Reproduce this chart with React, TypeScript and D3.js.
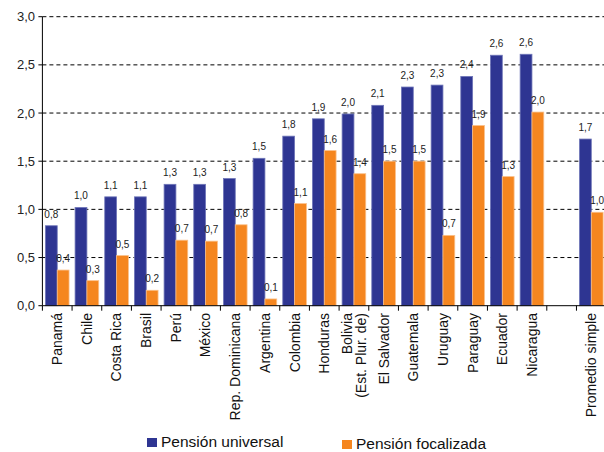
import React from 'react';
import * as d3 from 'd3';

const categories = [
  'Panamá', 'Chile', 'Costa Rica', 'Brasil', 'Perú', 'México', 'Rep. Dominicana',
  'Argentina', 'Colombia', 'Honduras', 'Bolivia\n(Est. Plur. de)', 'El Salvador',
  'Guatemala', 'Uruguay', 'Paraguay', 'Ecuador', 'Nicaragua', '', 'Promedio simple',
];
const universal = [0.83, 1.02, 1.13, 1.13, 1.26, 1.26, 1.32, 1.53, 1.76, 1.94, 1.99, 2.08, 2.27, 2.29, 2.38, 2.6, 2.61, null, 1.73];
const focalizada = [0.37, 0.26, 0.52, 0.16, 0.68, 0.67, 0.84, 0.07, 1.06, 1.61, 1.37, 1.5, 1.5, 0.73, 1.87, 1.34, 2.01, null, 0.97];
const seriesNames = ['Pensión universal', 'Pensión focalizada'];
const yTicks = [0, 0.5, 1, 1.5, 2, 2.5, 3];

const colors = ['#2E3592', '#F5861F'];
const edges = ['#6F76B8', '#FAC08A'];
const font = 'Liberation Sans, Arial, sans-serif';

const fmt = (v: number) => v.toFixed(1).replace('.', ',');

export default function App() {
  const width = 604;
  const height = 452;
  const left = 42.4;
  const top = 16.7;
  const bottom = 305.7;

  const x = d3.scaleBand<number>()
    .domain(d3.range(categories.length))
    .range([left, left + categories.length * 29.67])
    .padding(0);
  const xs = d3.scaleBand<number>()
    .domain([0, 1])
    .range([0, x.bandwidth()])
    .paddingInner(0)
    .paddingOuter(0.255);
  const y = d3.scaleLinear().domain([0, 3]).range([bottom, top]);

  const series = [universal, focalizada];

  return (
    <svg width={width} height={height} style={{ position: 'absolute', left: 0, top: 0 }}>
      <rect width={width} height={height} fill="#fff" />
      {yTicks.filter(t => t > 0).map(t => (
        <line key={'g' + t} x1={left} x2={width} y1={y(t)} y2={y(t)}
          stroke="#000" strokeWidth={1} strokeDasharray="4,3" />
      ))}
      {series.map((vals, s) =>
        vals.map((v, i) => {
          if (v == null) return null;
          const bx = x(i)! + xs(s)!;
          return (
            <g key={`b${s}-${i}`}>
              <rect x={bx} y={y(v)} width={xs.bandwidth()} height={bottom - y(v)}
                fill={colors[s]} stroke={edges[s]} strokeWidth={0.8} />
              <text x={bx + xs.bandwidth() / 2} y={y(v) - 8} textAnchor="middle"
                fontSize={10} fontFamily={font} fill="#222">{fmt(v)}</text>
            </g>
          );
        })
      )}
      {/* axes */}
      <line x1={left} x2={left} y1={top} y2={bottom} stroke="#000" />
      <line x1={left} x2={width} y1={bottom} y2={bottom} stroke="#000" />
      {yTicks.map(t => (
        <g key={'y' + t}>
          <line x1={left - 4} x2={left} y1={y(t)} y2={y(t)} stroke="#000" />
          <text x={35} y={y(t)} dy="0.35em" textAnchor="end" fontSize={13}
            fontFamily={font} fill="#222">{fmt(t)}</text>
        </g>
      ))}
      {d3.range(categories.length + 1).map(k => {
        const tx = left + k * x.step();
        return <line key={'t' + k} x1={tx} x2={tx} y1={bottom} y2={bottom + 5} stroke="#000" />;
      })}
      {categories.map((c, i) => {
        const cx = x(i)! + x.bandwidth() / 2;
        const lines = c.split('\n');
        return (
          <text key={'c' + i} transform={`translate(${cx},313) rotate(-90)`} textAnchor="end"
            fontSize={14} fontFamily={font} fill="#111">
            {lines.map((l, j) => (
              <tspan key={j} x={0} y={(j - (lines.length - 1) / 2) * 14} dy="0.35em">{l}</tspan>
            ))}
          </text>
        );
      })}
      {/* legend */}
      {seriesNames.map((n, s) => {
        const lx = s === 0 ? 147 : 342;
        const ly = s === 0 ? 438 : 440;
        return (
          <g key={'l' + s}>
            <rect x={lx} y={ly} width={10} height={9} fill={colors[s]} />
            <text x={lx + 14} y={ly + 9} fontSize={15.5} fontFamily={font} fill="#111">{n}</text>
          </g>
        );
      })}
    </svg>
  );
}
